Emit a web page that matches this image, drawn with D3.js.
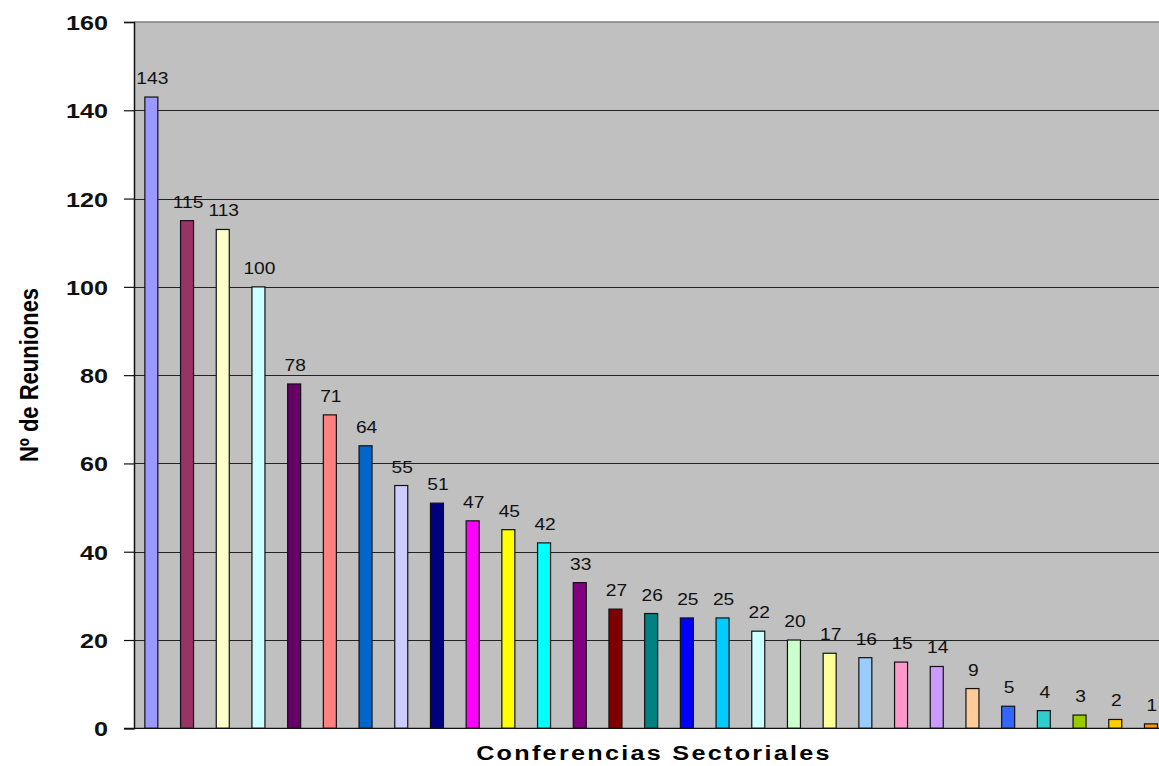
<!DOCTYPE html>
<html>
<head>
<meta charset="utf-8">
<script src="https://cdn.jsdelivr.net/npm/d3@7"></script>
<style>
  html, body { margin: 0; padding: 0; background: #ffffff; }
  svg { display: block; }
</style>
</head>
<body>
<svg id="chart" width="1159" height="766"></svg>
<script>
// ---- data ----
const categories = ["C1","C2","C3","C4","C5","C6","C7","C8","C9","C10","C11","C12","C13","C14","C15",
                    "C16","C17","C18","C19","C20","C21","C22","C23","C24","C25","C26","C27","C28","C29"];
const values = [143,115,113,100,78,71,64,55,51,47,45,42,33,27,26,25,25,22,20,17,16,15,14,9,5,4,3,2,1];
const barColors = ["#9999FF","#993366","#FFFFCC","#CCFFFF","#660066","#FF8080","#0066CC","#CCCCFF",
                   "#000080","#FF00FF","#FFFF00","#00FFFF","#800080","#800000","#008080","#0000FF",
                   "#00CCFF","#CCFFFF","#CCFFCC","#FFFF99","#99CCFF","#FF99CC","#CC99FF","#FFCC99",
                   "#3366FF","#33CCCC","#99CC00","#FFCC00","#FF9900"];
const yTicks = [0,20,40,60,80,100,120,140,160];
const yTitle = "Nº de Reuniones";
const xTitle = "Conferencias Sectoriales";

// ---- layout ----
const svg = d3.select("#chart");
const mLeft = 134, mTop = 22, mBottom = 728.3;
const step = 35.7;
const mRight = 133.5 + step * categories.length;

const x = d3.scaleBand().domain(categories).range([133.5, mRight])
  .paddingInner(0.636).paddingOuter(0.318);
const y = d3.scaleLinear().domain([0, 160]).range([mBottom, mTop]);

// plot background
svg.append("rect").attr("x", mLeft).attr("y", mTop)
  .attr("width", mRight - mLeft).attr("height", mBottom - mTop)
  .attr("fill", "#C0C0C0");

// top border
svg.append("line").attr("x1", mLeft).attr("x2", mRight)
  .attr("y1", y(160)).attr("y2", y(160))
  .attr("stroke", "#808080").attr("stroke-width", 1.5);

// grid lines
svg.append("g").selectAll("line")
  .data(yTicks.filter(t => t > 0 && t < 160)).join("line")
  .attr("x1", mLeft).attr("x2", mRight)
  .attr("y1", d => Math.round(y(d)) + 0.5).attr("y2", d => Math.round(y(d)) + 0.5)
  .attr("stroke", "#222").attr("stroke-width", 1);

// y axis
const yAxis = d3.axisLeft(y).tickValues(yTicks).tickSize(10).tickFormat("");
const gy = svg.append("g").attr("transform", `translate(${mLeft},0)`).call(yAxis);
gy.select(".domain").attr("stroke", "#111").attr("stroke-width", 1.5);
gy.selectAll(".tick line").attr("stroke", "#111").attr("stroke-width", 1.2);

// y tick labels
svg.append("g").selectAll("text")
  .data(yTicks).join("text")
  .attr("transform", d => `translate(108,${y(d) + 8}) scale(1.2,1)`)
  .attr("text-anchor", "end")
  .attr("font-family", "Liberation Sans, Arial, sans-serif")
  .attr("font-weight", "bold")
  .attr("font-size", 21)
  .attr("fill", "#111")
  .text(d => d);

// bars
svg.append("g").selectAll("rect")
  .data(values).join("rect")
  .attr("x", (d, i) => x(categories[i]))
  .attr("y", d => y(d))
  .attr("width", x.bandwidth())
  .attr("height", d => y(0) - y(d))
  .attr("fill", (d, i) => barColors[i])
  .attr("stroke", "#111")
  .attr("stroke-width", 1.2);

// zero axis line
svg.append("line").attr("x1", mLeft - 10).attr("x2", mRight)
  .attr("y1", mBottom).attr("y2", mBottom)
  .attr("stroke", "#111").attr("stroke-width", 1.2);

// value labels
svg.append("g").selectAll("text")
  .data(values).join("text")
  .attr("transform", (d, i) => `translate(${x(categories[i]) + x.bandwidth() / 2 + 1},${y(d) - 13}) scale(1.2,1)`)
  .attr("text-anchor", "middle")
  .attr("font-family", "Liberation Sans, Arial, sans-serif")
  .attr("font-size", 16)
  .attr("fill", "#111")
  .text(d => d);

// y title
svg.append("text")
  .attr("transform", `translate(38,375) scale(1.2,1) rotate(-90)`)
  .attr("text-anchor", "middle")
  .attr("font-family", "Liberation Sans, Arial, sans-serif")
  .attr("font-weight", "bold")
  .attr("font-size", 22)
  .attr("fill", "#000")
  .text(yTitle);

// x title
svg.append("text")
  .attr("transform", `translate(654,760) scale(1.2,1)`)
  .attr("text-anchor", "middle")
  .attr("font-family", "Liberation Sans, Arial, sans-serif")
  .attr("font-weight", "bold")
  .attr("font-size", 21)
  .attr("letter-spacing", "1.9px")
  .attr("fill", "#000")
  .text(xTitle);
</script>
</body>
</html>
